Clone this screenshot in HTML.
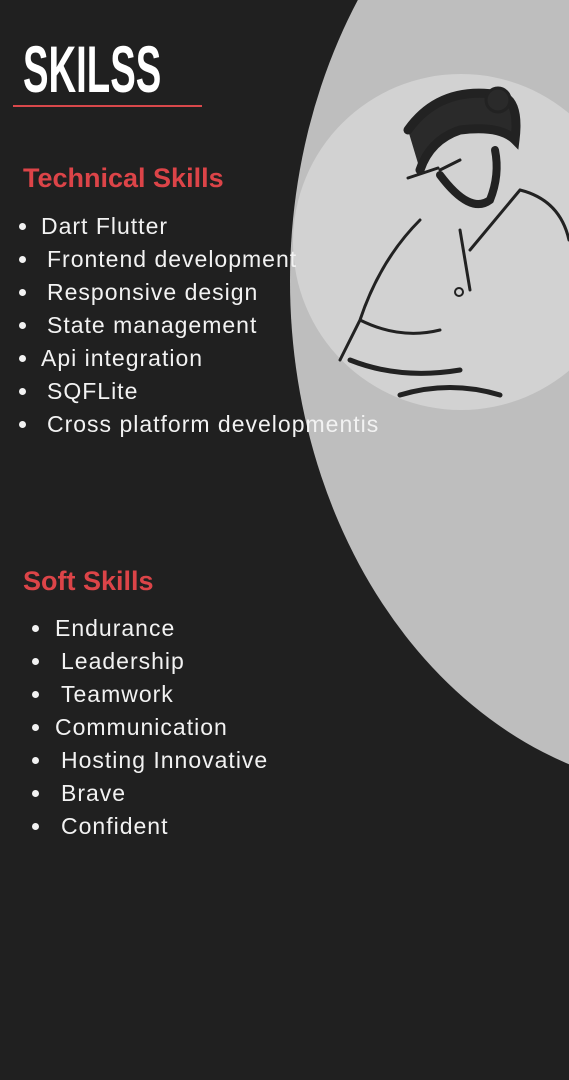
<!DOCTYPE html>
<html><head><style>
body{margin:0;width:569px;height:1080px;background:#202020;position:relative;overflow:hidden;font-family:"Liberation Sans",sans-serif;}
.t{position:absolute;color:#f2f2f2;font-size:23px;letter-spacing:1px;white-space:pre;line-height:1;}
.b{position:absolute;width:7px;height:7px;border-radius:50%;background:#f2f2f2;}
.h{position:absolute;color:#dc4448;font-weight:bold;font-size:27px;line-height:1;white-space:nowrap;}
</style></head><body>
<svg width="569" height="1080" style="position:absolute;left:0;top:0">
<ellipse cx="700" cy="281" rx="410" ry="510" fill="#bebebe"/>
<circle cx="461" cy="242" r="168" fill="#d2d2d2"/>
<g stroke="#222" fill="none" stroke-linecap="round">
<path d="M408 130 Q440 85 500 95 Q520 100 515 140 Q500 125 460 130 Q430 140 420 170" stroke-width="9" fill="#2a2a2a"/>
<circle cx="498" cy="100" r="12" fill="#2a2a2a" stroke-width="3"/>
<path d="M440 175 Q470 215 490 200 Q500 175 495 150" stroke-width="8"/>
<path d="M408 178 l30 -10 M440 170 l20 -10" stroke-width="3"/>
<path d="M460 230 L470 290 M470 250 L520 190 M520 190 Q560 200 569 240" stroke-width="3"/>
<path d="M420 220 Q380 260 360 320 Q345 350 340 360 M360 320 Q400 340 440 330" stroke-width="3"/>
<path d="M350 360 Q400 380 460 370 M400 395 Q450 380 500 395" stroke-width="5"/>
<circle cx="459" cy="292" r="4" stroke-width="2"/>
</g>
</svg>
<div style="position:absolute;left:23px;top:36px;font-size:66px;font-weight:bold;color:#fff;transform:scaleX(0.58);transform-origin:0 0;line-height:1;">SKILSS</div>
<div style="position:absolute;left:13px;top:105px;width:189px;height:2px;background:#d9484b"></div>
<div class="h" style="left:23px;top:165px">Technical Skills</div>
<div class="b" style="left:19px;top:223px"></div><div class="t" style="left:41px;top:215px">Dart Flutter</div>
<div class="b" style="left:19px;top:256px"></div><div class="t" style="left:47px;top:248px">Frontend development</div>
<div class="b" style="left:19px;top:289px"></div><div class="t" style="left:47px;top:281px">Responsive design</div>
<div class="b" style="left:19px;top:322px"></div><div class="t" style="left:47px;top:314px">State management</div>
<div class="b" style="left:19px;top:355px"></div><div class="t" style="left:41px;top:347px">Api integration</div>
<div class="b" style="left:19px;top:388px"></div><div class="t" style="left:47px;top:380px">SQFLite</div>
<div class="b" style="left:19px;top:421px"></div><div class="t" style="left:47px;top:413px">Cross platform developmentis</div>
<div class="h" style="left:23px;top:568px">Soft Skills</div>
<div class="b" style="left:32px;top:625px"></div><div class="t" style="left:55px;top:617px">Endurance</div>
<div class="b" style="left:32px;top:658px"></div><div class="t" style="left:61px;top:650px">Leadership</div>
<div class="b" style="left:32px;top:691px"></div><div class="t" style="left:61px;top:683px">Teamwork</div>
<div class="b" style="left:32px;top:724px"></div><div class="t" style="left:55px;top:716px">Communication</div>
<div class="b" style="left:32px;top:757px"></div><div class="t" style="left:61px;top:749px">Hosting Innovative</div>
<div class="b" style="left:32px;top:790px"></div><div class="t" style="left:61px;top:782px">Brave</div>
<div class="b" style="left:32px;top:823px"></div><div class="t" style="left:61px;top:815px">Confident</div>
</body></html>
